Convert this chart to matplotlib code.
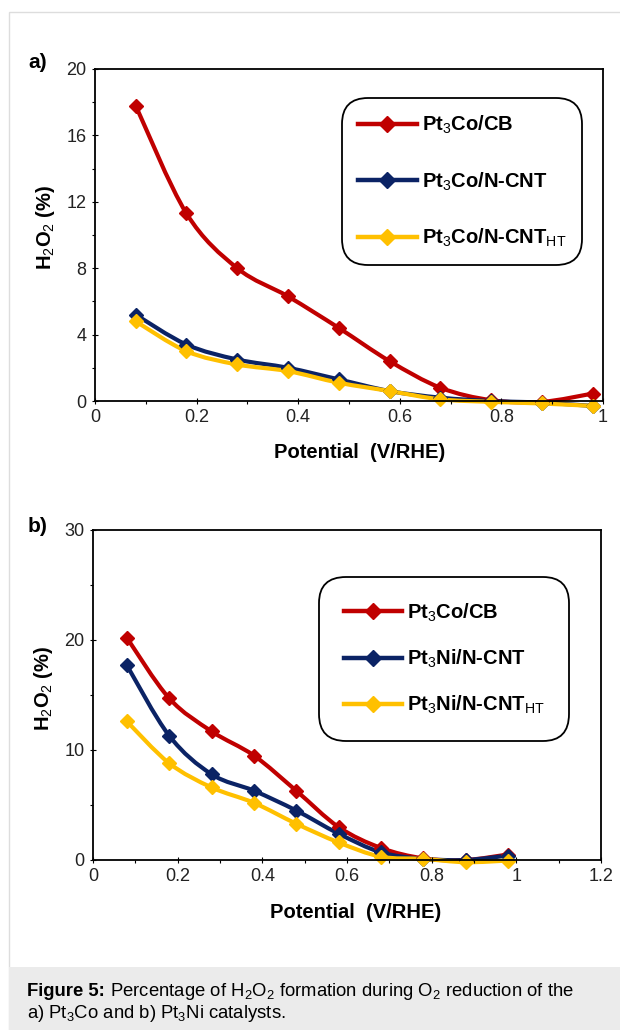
import matplotlib
matplotlib.use('Agg')
import matplotlib.pyplot as plt
from matplotlib.path import Path
from matplotlib.patches import PathPatch, Rectangle
from matplotlib.lines import Line2D
from matplotlib.ticker import MultipleLocator

plt.rcParams['font.family'] = ['Liberation Sans', 'DejaVu Sans']
plt.rcParams['mathtext.fontset'] = 'custom'
plt.rcParams['mathtext.rm'] = 'Liberation Sans'
plt.rcParams['mathtext.bf'] = 'Liberation Sans:bold'
plt.rcParams['mathtext.it'] = 'Liberation Sans:italic'

# ------------------------------
# Datos
potencial = [0.08, 0.18, 0.28, 0.38, 0.48, 0.58, 0.68, 0.78, 0.88, 0.98]

# a) Pt3Co
a_cb = [17.8, 11.3, 8.0, 6.3, 4.4, 2.4, 0.8, 0.05, -0.05, 0.45]
a_ncnt = [5.2, 3.4, 2.5, 2.0, 1.3, 0.6, 0.2, 0.0, -0.1, -0.3]
a_ncnt_ht = [4.8, 3.0, 2.2, 1.8, 1.1, 0.6, 0.1, -0.05, -0.15, -0.3]
a_labels = ['Pt$_\\mathrm{3}$Co/CB', 'Pt$_\\mathrm{3}$Co/N-CNT',
            'Pt$_\\mathrm{3}$Co/N-CNT$_\\mathrm{HT}$']

# b) Pt3Ni
b_cb = [20.2, 14.7, 11.7, 9.5, 6.3, 3.0, 1.1, 0.15, 0.0, 0.5]
b_ncnt = [17.7, 11.3, 7.8, 6.3, 4.5, 2.4, 0.7, 0.1, 0.0, 0.4]
b_ncnt_ht = [12.6, 8.8, 6.6, 5.2, 3.3, 1.6, 0.3, 0.1, -0.2, -0.05]
b_labels = ['Pt$_\\mathrm{3}$Co/CB', 'Pt$_\\mathrm{3}$Ni/N-CNT',
            'Pt$_\\mathrm{3}$Ni/N-CNT$_\\mathrm{HT}$']

colores = ['#c00000', '#0b2365', '#ffc000']


# ------------------------------
def curva_suave(ax, x, y, color):
    # Línea suavizada tipo Excel (Bezier cúbica por los puntos)
    n = len(x)
    verts = [(x[0], y[0])]
    codes = [Path.MOVETO]
    for i in range(n - 1):
        x0, y0 = (x[i - 1], y[i - 1]) if i > 0 else (x[i], y[i])
        x3, y3 = (x[i + 2], y[i + 2]) if i + 2 < n else (x[i + 1], y[i + 1])
        c1 = (x[i] + (x[i + 1] - x0) / 6, y[i] + (y[i + 1] - y0) / 6)
        c2 = (x[i + 1] - (x3 - x[i]) / 6, y[i + 1] - (y3 - y[i]) / 6)
        verts += [c1, c2, (x[i + 1], y[i + 1])]
        codes += [Path.CURVE4] * 3
    patch = PathPatch(Path(verts, codes), facecolor='none', edgecolor=color,
                      lw=3, capstyle='round', joinstyle='round', clip_on=False)
    ax.add_patch(patch)
    ax.plot(x, y, 'D', color=color, markersize=7.5, clip_on=False)


def panel(ax, series, labels, ymax, ymajor, yminor, xmax, leyenda_pos, espacio, borde):
    for i in range(3):
        curva_suave(ax, potencial, series[i], colores[i])

    ax.set_xlim(0, xmax)
    ax.set_ylim(0, ymax)
    ax.xaxis.set_major_locator(MultipleLocator(0.2))
    ax.xaxis.set_minor_locator(MultipleLocator(0.1))
    ax.xaxis.set_major_formatter(plt.FuncFormatter(lambda v, p: f'{v:g}'))
    ax.yaxis.set_major_locator(MultipleLocator(ymajor))
    ax.yaxis.set_minor_locator(MultipleLocator(yminor))
    ax.tick_params(labelsize=13, labelcolor='#222222', direction='inout', length=5, width=0.8)
    ax.tick_params(which='minor', direction='out', length=2, width=0.8)
    for s in ax.spines.values():
        s.set_linewidth(1.3)

    ax.set_xlabel('Potential  (V/RHE)', fontsize=14.5, fontweight='bold')
    ax.set_ylabel('H$_\\mathrm{2}$O$_\\mathrm{2}$ (%)', fontsize=14.5, fontweight='bold')

    handles = [Line2D([], [], color=c, lw=3.2, marker='D', markersize=8) for c in colores]
    leg = ax.legend(handles, labels, loc='upper right', bbox_to_anchor=leyenda_pos,
                    prop={'weight': 'bold', 'size': 14.5}, handlelength=2.9,
                    labelspacing=espacio, borderpad=borde, handletextpad=0.25,
                    fancybox=True, framealpha=1, borderaxespad=0)
    leg.get_frame().set_edgecolor('black')
    leg.get_frame().set_linewidth(1.3)
    leg.get_frame().set_boxstyle('round,pad=0.3,rounding_size=1.3')


fig = plt.figure(figsize=(6.2, 10.3), dpi=100)

# marco gris y caja del pie de figura
fig.patches.append(Rectangle((9 / 620, 0), 1, 1 - 12 / 1030, transform=fig.transFigure,
                             facecolor='none', edgecolor='#dddddd', lw=1))
fig.patches.append(Rectangle((9 / 620, 0), 1, 63 / 1030, transform=fig.transFigure,
                             facecolor='#ebebeb', edgecolor='none'))

ax1 = fig.add_axes([95 / 620, 1 - 401 / 1030, 508 / 620, 332 / 1030])
panel(ax1, [a_cb, a_ncnt, a_ncnt_ht], a_labels, 20, 4, 2, 1.0, (0.947, 0.895), 1.7, 0.5)
ax1.yaxis.set_label_coords(-0.075, 0.524)
ax1.xaxis.set_label_coords(0.52, -0.125)

ax2 = fig.add_axes([93 / 620, 1 - 860 / 1030, 508 / 620, 330 / 1030])
panel(ax2, [b_cb, b_ncnt, b_ncnt_ht], b_labels, 30, 10, 5, 1.2, (0.925, 0.839), 1.2, 0.9)
ax2.yaxis.set_label_coords(-0.075, 0.52)
ax2.xaxis.set_label_coords(0.516, -0.13)

fig.text(28 / 620, 1 - 62 / 1030, 'a)', fontsize=15, fontweight='bold', va='center')
fig.text(28 / 620, 1 - 527 / 1030, 'b)', fontsize=15, fontweight='bold', va='center')

# pie de figura: "Figure 5:" en negrita y el resto normal
renderer = fig.canvas.get_renderer()
t = fig.text(27 / 620, 1 - 991 / 1030, 'Figure 5:', fontsize=13.3, fontweight='bold', va='center')
ancho = t.get_window_extent(renderer).width / fig.bbox.width
fig.text(27 / 620 + ancho, 1 - 991 / 1030,
         ' Percentage of H$_2$O$_2$ formation during O$_2$ reduction of the',
         fontsize=13.3, va='center')
fig.text(27 / 620, 1 - 1013 / 1030, 'a) Pt$_3$Co and b) Pt$_3$Ni catalysts.',
         fontsize=13.3, va='center')

fig.savefig('out.png', dpi=100)
